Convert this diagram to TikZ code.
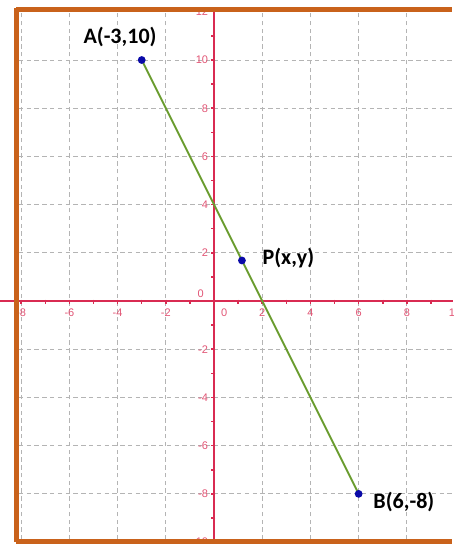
\documentclass[tikz,border=0pt]{standalone}
\usepackage{fontspec}
\setmainfont{Carlito}
\newfontfamily\ticksfont{Liberation Sans}
\usetikzlibrary{positioning,calc}
\definecolor{framepop}{HTML}{C9621B}
\definecolor{axispop}{HTML}{D92B52}
\definecolor{linepop}{HTML}{6A9C2F}
\definecolor{dotpop}{HTML}{0A0AA8}
\definecolor{gridpop}{HTML}{B4B4B4}
\tikzset{
  gridline/.style={gridpop, line width=0.6pt, dash pattern=on 2.6pt off 2pt},
  axisline/.style={axispop, line width=1.1pt},
  ticklabel/.style={text=axispop!80, font=\ticksfont\fontsize{6.5}{7}\selectfont, inner sep=0.5pt},
  ptlabel/.style={font=\bfseries\fontsize{13}{15}\selectfont, inner sep=0pt},
  ptdot/.style={circle, fill=dotpop, inner sep=0pt, minimum size=4.6pt},
  frameline/.style={framepop, line width=3pt, line cap=butt}
}

\begin{document}
\begin{tikzpicture}[x=0.5cm,y=0.5cm]
\useasboundingbox (-8.88,-10.08) rectangle (9.92,12.49);
\begin{scope}
\clip (-8.88,-10.08) rectangle (9.92,12.49);
% grid
\foreach \x in {-8,-6,-4,-2,2,4,6,8} {
  \draw[gridline] (\x,-9.9) -- (\x,12);
}
\foreach \y in {-8,-6,-4,-2,2,4,6,8,10} {
  \draw[gridline] (-8.1,\y) -- (9.92,\y);
}
% axes
\draw[axisline] (-8.88,0) -- (9.92,0);
\draw[axisline] (0,-9.9) -- (0,12);
\foreach \x in {-8,...,9} {
  \draw[axispop, line width=0.9pt] (\x,0.06) -- (\x,-0.14);
}
\foreach \y in {-9,...,11} {
  \draw[axispop, line width=0.9pt] (0.06,\y) -- (-0.14,\y);
}
\foreach \x in {-8,-6,-4,-2,2,4,6,8,10} {
  \node[ticklabel] at (\x,-0.5) {\x};
}
\foreach \y in {-10,-8,-6,-4,-2,2,4,6,8,10,12} {
  \node[ticklabel, anchor=east] at (-0.2,\y) {\y};
}
\node[ticklabel] at (-0.55,0.3) {0};
\node[ticklabel] at (0.42,-0.5) {0};
% segment and points
\coordinate (A) at (-3,10);
\coordinate (B) at (6,-8);
\coordinate (P) at ($(A)!0.462!(B)$);
\draw[linepop, line width=1.1pt] (A) -- (B);
\node[ptdot] (dotA) at (A) {};
\node[ptdot] (dotB) at (B) {};
\node[ptdot] (dotP) at (P) {};
\node[ptlabel] (labA) at (-3.9,10.95) {A(-3,10)};
\node[ptlabel, anchor=west] (labP) at (2.0,1.8) {P(x,y)};
\node[ptlabel, anchor=west] (labB) at (6.6,-8.35) {B(6,-8)};
% frame, open on the right
\draw[frameline] (-8.2,12.1) -- (9.86,12.1);
\draw[frameline] (-8.2,12.16) -- (-8.2,-10.0);
\draw[frameline] (-8.2,-9.96) -- (9.86,-9.96);
\end{scope}
\end{tikzpicture}
\end{document}
